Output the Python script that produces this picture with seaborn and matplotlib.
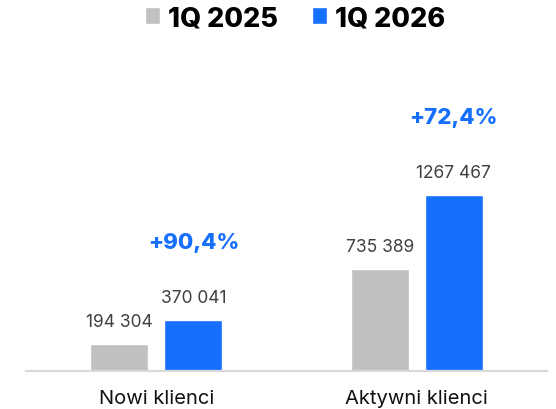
#%% Packages
import matplotlib
matplotlib.use("Agg")
import matplotlib.pyplot as plt
import pandas as pd
import seaborn as sns

#%% Data
categories = ["Nowi klienci", "Aktywni klienci"]
periods = ["1Q 2025", "1Q 2026"]
values_2025 = [194304, 735389]
values_2026 = [370041, 1267467]
value_labels_2025 = ["194 304", "735 389"]
value_labels_2026 = ["370 041", "1267 467"]
growth_labels = ["+90,4%", "+72,4%"]

GRAY = "#c0c0c0"
BLUE = "#166ffd"

df = pd.DataFrame({
    "kategoria": categories * 2,
    "okres": [periods[0]] * 2 + [periods[1]] * 2,
    "klienci": values_2025 + values_2026,
})

#%% Plot
sns.set_style("white")
plt.rcParams["font.family"] = ["Inter", "DejaVu Sans"]

fig = plt.figure(figsize=(5.56, 4.10), dpi=100)
ax = fig.add_axes([26 / 556, 38 / 410, 521 / 556, 372 / 410])

sns.barplot(data=df, x="kategoria", y="klienci", hue="okres",
            palette=[GRAY, BLUE], width=0.57, gap=0.217,
            saturation=1, ax=ax)

ax.set_xlim(-0.5, 1.5)
ax.set_ylim(0, 372 * 7201)

# value labels above bars
for cont, labels in zip(ax.containers, [value_labels_2025, value_labels_2026]):
    ax.bar_label(cont, labels=labels, padding=10, fontsize=12.5, color="#404040")

# growth labels above the blue bars
for bar, txt in zip(ax.containers[1], growth_labels):
    ax.annotate(txt, (bar.get_x() + bar.get_width() / 2, bar.get_height()),
                xytext=(0, 49), textcoords="offset points",
                ha="center", va="bottom", fontsize=16, fontweight="heavy",
                color=BLUE)

ax.set_xlabel("")
ax.set_ylabel("")
ax.set_yticks([])
ax.tick_params(axis="x", length=0, pad=13, labelsize=14.5, labelcolor="#111111")
for side in ["top", "right", "left"]:
    ax.spines[side].set_visible(False)
ax.spines["bottom"].set_color("#d9d9d9")
ax.spines["bottom"].set_linewidth(1.6)

sns.move_legend(ax, "center", bbox_to_anchor=(295 / 556, 1 - 19 / 410),
                bbox_transform=fig.transFigure, ncol=2, frameon=False,
                title=None, handlelength=0.55, handleheight=0.55,
                handletextpad=0.3, columnspacing=1.25,
                prop={"size": 19.5, "weight": "heavy"})
for t in ax.get_legend().get_texts():
    t.set_color("#000000")

fig.savefig("out.png", dpi=100)
